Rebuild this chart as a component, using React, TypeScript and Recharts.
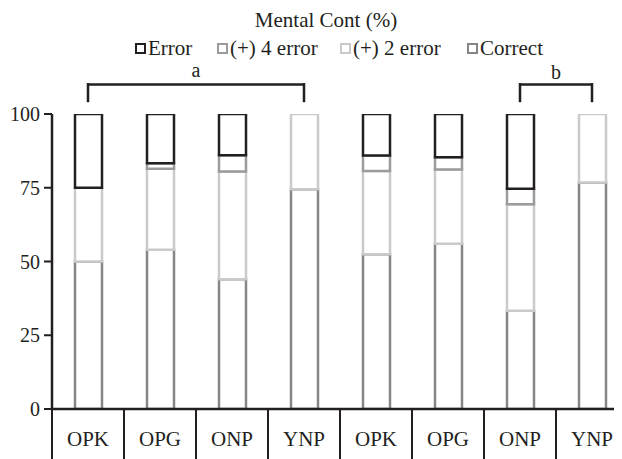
import { BarChart, Bar, XAxis, YAxis, Legend, ReferenceLine } from "recharts";

const categories = ["OPK", "OPG", "ONP", "YNP", "OPK", "OPG", "ONP", "YNP"];
const correct = [50, 54, 44, 74.5, 52.5, 56, 33.3, 76.8];
const twoError = [25, 27.4, 36.5, 25.5, 28.2, 25.2, 36.1, 23.2];
const fourError = [0, 1.9, 5.5, 0, 5.2, 4.1, 5.3, 0];
const error = [25, 16.7, 14, 0, 14.1, 14.7, 25.3, 0];
const yTicks = [0, 25, 50, 75, 100];

const FONT = '"Liberation Serif", "Times New Roman", serif';
const INK = "#231f20";
const C_ERROR = "#231f20";
const C_FOUR = "#9a9b9d";
const C_TWO = "#c9cacc";
const C_CORRECT = "#858688";

const CHART_W = 630;
const CHART_H = 451;
const Y_W = 44;
const MARGIN = { top: 0, right: 10, bottom: 0, left: 0 };
const BAND = (CHART_W - MARGIN.right - MARGIN.left - Y_W) / categories.length;

const data = categories.map((c, i) => ({
  id: `${c}-${i}`,
  correct: correct[i],
  two: twoError[i],
  four: fourError[i],
  error: error[i],
}));

const legendItems = [
  { label: "Error", color: C_ERROR, left: 127 },
  { label: "(+) 4 error", color: C_FOUR, left: 209 },
  { label: "(+) 2 error", color: C_TWO, left: 332 },
  { label: "Correct", color: C_CORRECT, left: 459 },
];

function LegendBlock() {
  return (
    <div style={{ position: "relative", height: 106, fontFamily: FONT, color: INK, lineHeight: "24px" }}>
      <div
        style={{
          position: "absolute",
          left: 318,
          top: 0,
          transform: "translateX(-50%)",
          fontSize: 21,
          whiteSpace: "nowrap",
        }}
      >
        Mental Cont (%)
      </div>
      {legendItems.map((it) => (
        <div
          key={it.label}
          style={{
            position: "absolute",
            left: it.left,
            top: 28,
            display: "flex",
            alignItems: "center",
            fontSize: 21,
            whiteSpace: "nowrap",
          }}
        >
          <span
            style={{
              display: "inline-block",
              width: 7,
              height: 7,
              border: `2.5px solid ${it.color}`,
              marginRight: 2,
            }}
          />
          {it.label}
        </div>
      ))}
    </div>
  );
}

function CategoryTick(props: any) {
  const { x, y, payload } = props;
  const i = payload.index;
  return (
    <g>
      <line x1={x - BAND / 2} y1={y} x2={x - BAND / 2} y2={y + 52} stroke={INK} strokeWidth={2} />
      {i === categories.length - 1 && (
        <line x1={x + BAND / 2} y1={y} x2={x + BAND / 2} y2={y + 52} stroke={INK} strokeWidth={2} />
      )}
      <text
        x={x}
        y={y + 30}
        textAnchor="middle"
        dominantBaseline="central"
        fontSize={21}
        fontFamily={FONT}
        fill={INK}
      >
        {categories[i]}
      </text>
    </g>
  );
}

const bracketLine = { stroke: INK, strokeWidth: 2.5, ifOverflow: "visible" as const };

export default function App() {
  const k = (i: number) => data[i].id;
  return (
    <div style={{ width: 614, height: 451, overflow: "hidden", fontFamily: FONT }}>
      <BarChart width={CHART_W} height={CHART_H} data={data} margin={MARGIN} barSize={27}>
        <XAxis
          dataKey="id"
          type="category"
          interval={0}
          tickSize={0}
          tickMargin={0}
          tickLine={false}
          height={50}
          axisLine={{ stroke: INK, strokeWidth: 2.5 }}
          tick={<CategoryTick />}
        />
        <YAxis
          width={Y_W}
          domain={[0, 100]}
          ticks={yTicks}
          allowDataOverflow
          tickSize={8}
          tickMargin={4}
          axisLine={{ stroke: INK, strokeWidth: 2.5 }}
          tickLine={{ stroke: INK, strokeWidth: 2 }}
          tick={{ fontSize: 20, fontFamily: FONT, fill: INK }}
        />
        <Legend verticalAlign="top" align="left" wrapperStyle={{ top: 0, left: 0, width: CHART_W }} content={() => <LegendBlock />} />
        <Bar dataKey="correct" stackId="s" fill="#fff" stroke={C_CORRECT} strokeWidth={2.5} isAnimationActive={false} />
        <Bar dataKey="two" stackId="s" fill="#fff" stroke={C_TWO} strokeWidth={2.5} isAnimationActive={false} />
        <Bar dataKey="four" stackId="s" fill="#fff" stroke={C_FOUR} strokeWidth={2.5} isAnimationActive={false} />
        <Bar dataKey="error" stackId="s" fill="#fff" stroke={C_ERROR} strokeWidth={2.5} isAnimationActive={false} />
        {/* significance brackets */}
        <ReferenceLine
          segment={[{ x: k(0), y: 110 }, { x: k(3), y: 110 }]}
          {...bracketLine}
          label={{ value: "a", position: "top", fontSize: 20, fontFamily: FONT, fill: INK, offset: 8 }}
        />
        <ReferenceLine segment={[{ x: k(0), y: 110.5 }, { x: k(0), y: 104 }]} {...bracketLine} />
        <ReferenceLine segment={[{ x: k(3), y: 110.5 }, { x: k(3), y: 104 }]} {...bracketLine} />
        <ReferenceLine
          segment={[{ x: k(6), y: 110 }, { x: k(7), y: 110 }]}
          {...bracketLine}
          label={{ value: "b", position: "top", fontSize: 20, fontFamily: FONT, fill: INK, offset: 6 }}
        />
        <ReferenceLine segment={[{ x: k(6), y: 110.5 }, { x: k(6), y: 104 }]} {...bracketLine} />
        <ReferenceLine segment={[{ x: k(7), y: 110.5 }, { x: k(7), y: 104 }]} {...bracketLine} />
      </BarChart>
    </div>
  );
}
